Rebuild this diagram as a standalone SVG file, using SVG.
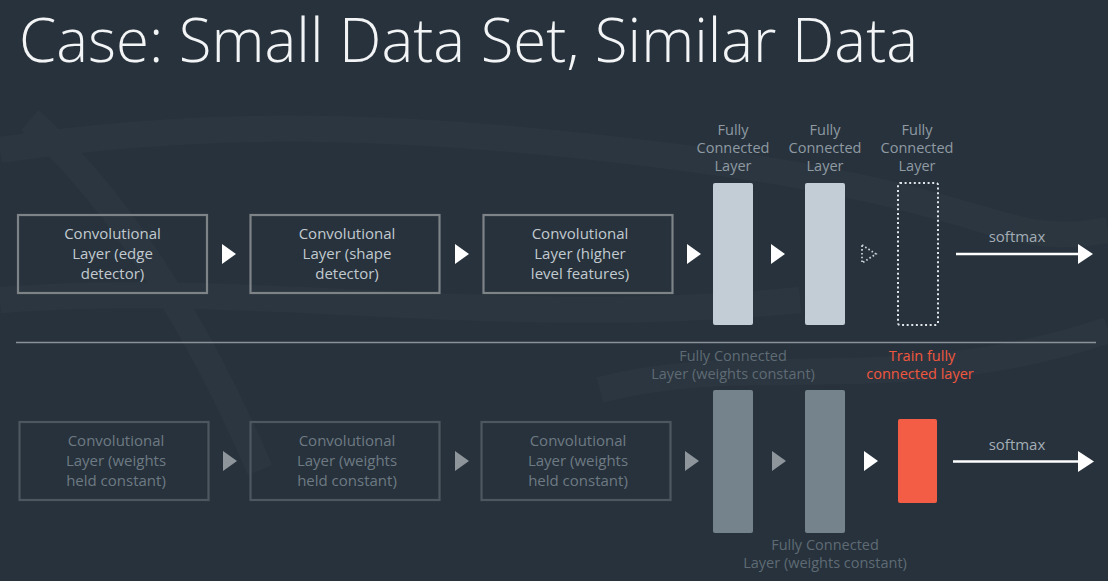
<svg xmlns="http://www.w3.org/2000/svg" width="1108" height="581" viewBox="0 0 1108 581">
<style>
text{font-family:"Open Sans","Noto Sans","Liberation Sans",sans-serif;}
.title{font-size:60px;font-weight:300;fill:#f2f4f5;}
.bt{font-size:15px;fill:#c2cad0;text-anchor:middle;}
.bb{font-size:15px;fill:#6e7a83;text-anchor:middle;}
.lt{font-size:14.5px;fill:#8f9aa3;text-anchor:middle;}
.lb{font-size:14.5px;fill:#5f6b74;text-anchor:middle;}
.red{font-size:14.5px;fill:#f0573f;text-anchor:middle;}
.sm{font-size:15px;fill:#a3adb5;text-anchor:middle;}
.boxT{fill:none;stroke:#7d8387;stroke-width:2.2;}
.boxB{fill:none;stroke:#4d5760;stroke-width:2.2;}
.aw{fill:#ffffff;}
.ag{fill:#8e969c;}
</style>
<rect width="1108" height="581" fill="#27323c"/>
<g opacity="0.02" fill="none" stroke="#ffffff" stroke-width="26">
<path d="M0 150 C200 120 400 120 700 160 S1000 250 1108 230"/>
<path d="M0 300 C250 280 500 330 800 300"/>
<path d="M30 120 C120 200 200 330 260 470"/>
<path d="M600 390 C750 350 900 400 1108 330"/>
</g>
<text class="title" x="19" y="62">Case: Small Data Set, Similar Data</text>
<line x1="16" y1="342.5" x2="1096" y2="342.5" stroke="#8a9198" stroke-width="1.5"/>

<g id="conv1"><rect class="boxT" x="18" y="215" width="189" height="78"/>
<text class="bt" x="112.5" y="239">Convolutional</text><text class="bt" x="112.5" y="259">Layer (edge</text><text class="bt" x="112.5" y="279">detector)</text></g>
<g id="conv2"><rect class="boxT" x="250.5" y="215" width="189" height="78"/>
<text class="bt" x="347" y="239">Convolutional</text><text class="bt" x="347" y="259">Layer (shape</text><text class="bt" x="347" y="279">detector)</text></g>
<g id="conv3"><rect class="boxT" x="483.5" y="215" width="189" height="78"/>
<text class="bt" x="580" y="239">Convolutional</text><text class="bt" x="580" y="259">Layer (higher</text><text class="bt" x="580" y="279">level features)</text></g>
<g id="fc1"><text class="lt" x="733" y="135">Fully</text><text class="lt" x="733" y="153">Connected</text><text class="lt" x="733" y="171">Layer</text>
<rect x="713" y="183" width="40" height="142" rx="2" fill="#c2cdd5"/></g>
<g id="fc2"><text class="lt" x="825" y="135">Fully</text><text class="lt" x="825" y="153">Connected</text><text class="lt" x="825" y="171">Layer</text>
<rect x="805" y="183" width="40" height="142" rx="2" fill="#c2cdd5"/></g>
<g id="fc3"><text class="lt" x="917" y="135">Fully</text><text class="lt" x="917" y="153">Connected</text><text class="lt" x="917" y="171">Layer</text>
<rect x="898" y="183" width="40" height="142" rx="2" fill="none" stroke="#dfe5e9" stroke-width="2" stroke-dasharray="2 2.6"/></g>

<g id="conv4"><rect class="boxB" x="19.5" y="422" width="189" height="78"/>
<text class="bb" x="116" y="446">Convolutional</text><text class="bb" x="116" y="466">Layer (weights</text><text class="bb" x="116" y="486">held constant)</text></g>
<g id="conv5"><rect class="boxB" x="250.5" y="422" width="189" height="78"/>
<text class="bb" x="347" y="446">Convolutional</text><text class="bb" x="347" y="466">Layer (weights</text><text class="bb" x="347" y="486">held constant)</text></g>
<g id="conv6"><rect class="boxB" x="481.5" y="422" width="189" height="78"/>
<text class="bb" x="578" y="446">Convolutional</text><text class="bb" x="578" y="466">Layer (weights</text><text class="bb" x="578" y="486">held constant)</text></g>
<g id="fc4"><text class="lb" x="733" y="361">Fully Connected</text><text class="lb" x="733" y="379">Layer (weights constant)</text>
<rect x="713" y="390" width="40" height="143" rx="2" fill="#74838c"/></g>
<g id="fc5"><rect x="805" y="390" width="40" height="143" rx="2" fill="#74838c"/>
<text class="lb" x="825" y="550">Fully Connected</text><text class="lb" x="825" y="568">Layer (weights constant)</text></g>
<g id="fc6"><text class="red" x="922" y="361">Train fully</text><text class="red" x="920" y="379">connected layer</text>
<rect x="898" y="419" width="39" height="84" rx="2" fill="#f35d45"/></g>

<g id="connectors">
<polygon class="aw" points="222,244 236,254 222,264"/>
<polygon class="aw" points="455,244 469,254 455,264"/>
<polygon class="aw" points="687,244 701,254 687,264"/>
<polygon class="aw" points="771,244 785,254 771,264"/>
<polygon points="862,245 876,254 862,263" fill="none" stroke="#c8d0d6" stroke-width="1.8" stroke-dasharray="1.6 2.2"/>
<line x1="956" y1="254" x2="1080" y2="254" stroke="#ffffff" stroke-width="2.5"/>
<polygon class="aw" points="1078,244 1093,254 1078,264"/>
<text class="sm" x="1017" y="242">softmax</text>

<polygon class="ag" points="223,451 237,461 223,471"/>
<polygon class="ag" points="455,451 469,461 455,471"/>
<polygon class="ag" points="685,451 699,461 685,471"/>
<polygon class="ag" points="772,451 786,461 772,471"/>
<polygon class="aw" points="864,451 878,461 864,471"/>
<line x1="953" y1="461.5" x2="1080" y2="461.5" stroke="#ffffff" stroke-width="2.5"/>
<polygon class="aw" points="1078,451 1094,461.5 1078,472"/>
<text class="sm" x="1017" y="450">softmax</text>
</g>
</svg>
